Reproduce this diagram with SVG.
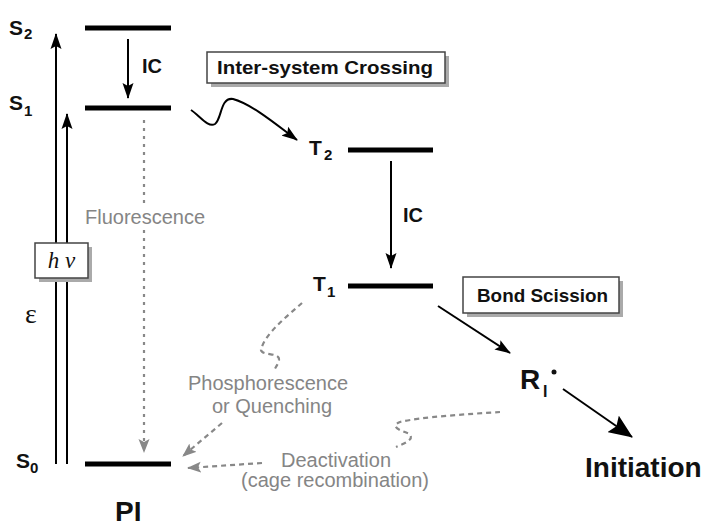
<svg xmlns="http://www.w3.org/2000/svg" width="708" height="526" viewBox="0 0 708 526">
<style>
.lvl{stroke:#000;stroke-width:5;fill:none}
.lab{font-family:"Liberation Sans",Arial,sans-serif;font-weight:bold;fill:#111}
.sub{font-family:"Liberation Sans",Arial,sans-serif;font-weight:bold;fill:#111}
.grey{font-family:"Liberation Sans",Arial,sans-serif;font-size:20px;fill:#858585}
.ar{stroke:#000;stroke-width:2;fill:none}
.dash{stroke:#888;stroke-width:2.2;fill:none;stroke-dasharray:5,4}
.dot{stroke:#888;stroke-width:2.2;fill:none;stroke-dasharray:3,5}
.box{fill:#fff;stroke:#444;stroke-width:1.5}
.shadow{fill:#aaa}
</style>
<defs>
<marker id="ah" markerUnits="userSpaceOnUse" markerWidth="16" markerHeight="12" refX="15" refY="6" orient="auto">
<path d="M0,0.5 L16,6 L0,11.5 L3,6 z" fill="#000"/>
</marker>
<marker id="ahBig" markerUnits="userSpaceOnUse" markerWidth="24" markerHeight="20" refX="23" refY="10" orient="auto">
<path d="M0,0 L24,10 L0,20 L4,10 z" fill="#000"/>
</marker>
<marker id="ahG" markerUnits="userSpaceOnUse" markerWidth="14" markerHeight="12" refX="13" refY="6" orient="auto">
<path d="M0,0.5 L14,6 L0,11.5 L3,6 z" fill="#888"/>
</marker>
</defs>

<g id="connectors">
<line class="ar" x1="56" y1="464" x2="56" y2="34" marker-end="url(#ah)"/>
<line class="ar" x1="67" y1="464" x2="67" y2="114" marker-end="url(#ah)"/>
<line class="ar" x1="128" y1="39" x2="128" y2="98" marker-end="url(#ah)"/>
<path class="ar" d="M191,110 C200,116 208,128 215,124 C222,119 220,97 233,99 C252,104 278,126 297,140" marker-end="url(#ah)"/>
<line class="ar" x1="391" y1="161" x2="391" y2="268" marker-end="url(#ah)"/>
<line class="ar" x1="438" y1="306" x2="510" y2="353" marker-end="url(#ah)"/>
<line class="ar" x1="563" y1="389" x2="632" y2="437" marker-end="url(#ahBig)"/>
<line class="dot" x1="144" y1="120" x2="144" y2="204"/>
<line class="dot" x1="144" y1="230" x2="144" y2="452" marker-end="url(#ahG)"/>
<path class="dash" d="M302,303 C285,318 264,335 261,350 C262,356 280,352 279,360 C278,365 275,368 273,372"/>
<line class="dash" x1="222" y1="423" x2="183" y2="456" marker-end="url(#ahG)"/>
<path class="dash" d="M500,412 C470,414 420,417 400,422 C390,426 398,430 410,434 C414,440 405,443 396,447"/>
<line class="dash" x1="262" y1="463" x2="188" y2="468" marker-end="url(#ahG)"/>
</g>

<g id="S2">
<line class="lvl" x1="85" y1="28" x2="171" y2="28"/>
<text class="lab" x="9" y="35" font-size="21">S</text>
<text class="sub" x="24" y="39" font-size="15">2</text>
</g>
<g id="S1">
<line class="lvl" x1="85" y1="108" x2="171" y2="108"/>
<text class="lab" x="9" y="110" font-size="21">S</text>
<text class="sub" x="24" y="116" font-size="15">1</text>
</g>
<g id="S0">
<line class="lvl" x1="85" y1="464" x2="171" y2="464"/>
<text class="lab" x="16" y="468" font-size="21">S</text>
<text class="sub" x="30" y="473" font-size="15">0</text>
</g>
<g id="T2">
<line class="lvl" x1="348" y1="150" x2="433" y2="150"/>
<text class="lab" x="309" y="155" font-size="21">T</text>
<text class="sub" x="324" y="160" font-size="15">2</text>
</g>
<g id="T1">
<line class="lvl" x1="348" y1="286" x2="433" y2="286"/>
<text class="lab" x="313" y="291" font-size="21">T</text>
<text class="sub" x="327" y="297" font-size="15">1</text>
</g>
<g id="IC1"><text class="lab" x="142" y="73" font-size="20">IC</text></g>
<g id="IC2"><text class="lab" x="403" y="222" font-size="20">IC</text></g>

<g id="isc">
<rect class="shadow" x="211" y="56" width="238" height="31"/>
<rect class="box" x="207" y="52" width="238" height="31"/>
<text class="lab" x="217" y="74" font-size="19" textLength="216" lengthAdjust="spacingAndGlyphs">Inter-system Crossing</text>
</g>
<g id="bond">
<rect class="shadow" x="467" y="281" width="156" height="36"/>
<rect class="box" x="463" y="277" width="156" height="36"/>
<text class="lab" x="477" y="302" font-size="19" textLength="131" lengthAdjust="spacingAndGlyphs">Bond Scission</text>
</g>
<g id="hv">
<rect class="shadow" x="39" y="247" width="53" height="35"/>
<rect class="box" x="35" y="243" width="53" height="35"/>
<text x="61.5" y="268" font-family="'Liberation Serif','Times New Roman',serif" font-style="italic" font-size="23" text-anchor="middle" fill="#111">h ν</text>
</g>
<g id="eps"><text x="25" y="323" font-family="'Liberation Serif','Times New Roman',serif" font-size="28" fill="#111">ε</text></g>

<g id="fluor"><text class="grey" x="85" y="224">Fluorescence</text></g>
<g id="phos">
<text class="grey" x="268" y="390" text-anchor="middle">Phosphorescence</text>
<text class="grey" x="272" y="413" text-anchor="middle">or Quenching</text>
</g>
<g id="deact">
<text class="grey" x="336" y="467" text-anchor="middle">Deactivation</text>
<text class="grey" x="335" y="487" text-anchor="middle">(cage recombination)</text>
</g>

<g id="Ri">
<text class="lab" x="520" y="389" font-size="28">R</text>
<text class="lab" x="543" y="397" font-size="16">I</text>
<circle cx="554" cy="372" r="2.5" fill="#111"/>
</g>
<g id="Init"><text class="lab" x="585" y="477" font-size="28">Initiation</text></g>
<g id="PI"><text class="lab" x="115" y="521" font-size="28">PI</text></g>
</svg>
